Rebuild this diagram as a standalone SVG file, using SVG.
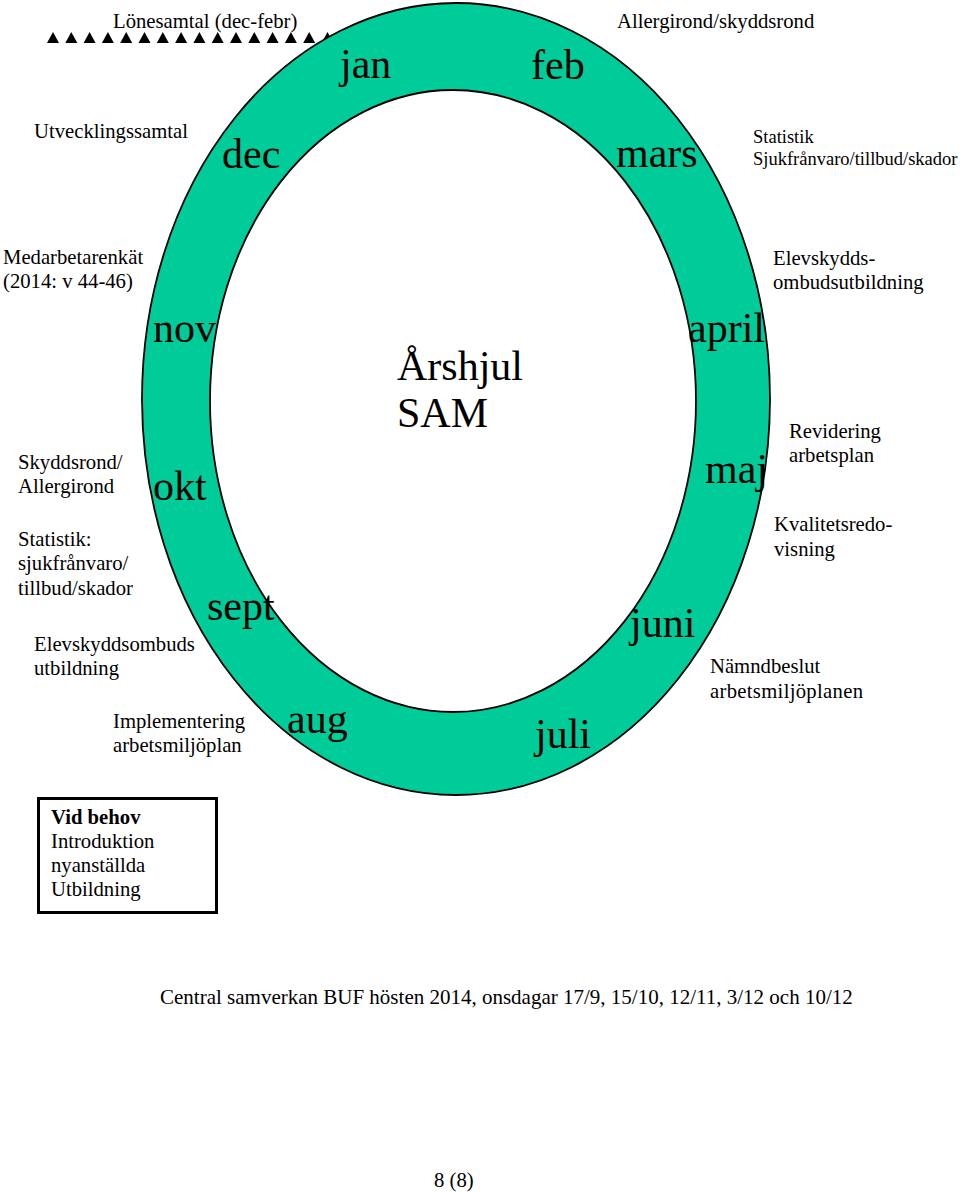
<svg xmlns="http://www.w3.org/2000/svg" xmlns:xlink="http://www.w3.org/1999/xlink" width="960" height="1192" viewBox="0 0 960 1192">
<style>
text{font-family:"Liberation Serif","Times New Roman",serif;fill:#000}
.m{font-size:42px}
.t{font-size:20.7px}
.s{font-size:18.5px}
.b{font-weight:bold}
</style>
<defs>
<polygon id="tri" points="0,-11 6,0 -6,0" fill="#000"/>
</defs>
<rect width="960" height="1192" fill="#fff"/>
<g id="triangles">
<use xlink:href="#tri" x="53" y="43"/><use xlink:href="#tri" x="71.3" y="43"/><use xlink:href="#tri" x="89.6" y="43"/><use xlink:href="#tri" x="107.9" y="43"/><use xlink:href="#tri" x="126.2" y="43"/><use xlink:href="#tri" x="144.5" y="43"/><use xlink:href="#tri" x="162.8" y="43"/><use xlink:href="#tri" x="181.1" y="43"/><use xlink:href="#tri" x="199.4" y="43"/><use xlink:href="#tri" x="217.7" y="43"/><use xlink:href="#tri" x="236" y="43"/><use xlink:href="#tri" x="254.3" y="43"/><use xlink:href="#tri" x="272.6" y="43"/><use xlink:href="#tri" x="290.9" y="43"/><use xlink:href="#tri" x="309.2" y="43"/><use xlink:href="#tri" x="327.5" y="43"/><use xlink:href="#tri" x="345.8" y="43"/>
</g>
<g id="ring">
<path d="M142 399A314 396 0 1 1 770 399A314 396 0 1 1 142 399ZM210 401A243 311 0 1 0 696 401A243 311 0 1 0 210 401Z" fill="#00CC99" fill-rule="evenodd" stroke="#000" stroke-width="1.8"/>
</g>
<g id="months">
<text class="m" x="340" y="78">jan</text>
<text class="m" x="531" y="79">feb</text>
<text class="m" x="222" y="168">dec</text>
<text class="m" x="616" y="167">mars</text>
<text class="m" x="153" y="342">nov</text>
<text class="m" x="688" y="342">april</text>
<text class="m" x="153" y="500">okt</text>
<text class="m" x="705" y="483">maj</text>
<text class="m" x="207" y="620">sept</text>
<text class="m" x="630" y="637">juni</text>
<text class="m" x="287" y="733">aug</text>
<text class="m" x="535" y="748">juli</text>
</g>
<g id="title">
<text class="m" x="397" y="380">Årshjul</text>
<text class="m" x="397" y="427">SAM</text>
</g>
<g id="lonesamtal"><text class="t" x="113" y="28">Lönesamtal (dec-febr)</text></g>
<g id="allergirond"><text class="t" x="617" y="28">Allergirond/skyddsrond</text></g>
<g id="utvecklingssamtal"><text class="t" x="34" y="138">Utvecklingssamtal</text></g>
<g id="statistik-mars"><text class="s" x="753" y="143">Statistik</text><text class="s" x="753" y="165">Sjukfrånvaro/tillbud/skador</text></g>
<g id="medarbetarenkat"><text class="t" x="3" y="264">Medarbetarenkät</text><text class="t" x="3" y="288">(2014: v 44-46)</text></g>
<g id="elevskydds-april"><text class="t" x="773" y="265">Elevskydds-</text><text class="t" x="773" y="289">ombudsutbildning</text></g>
<g id="skyddsrond"><text class="t" x="18" y="469">Skyddsrond/</text><text class="t" x="18" y="493">Allergirond</text></g>
<g id="revidering"><text class="t" x="789" y="438">Revidering</text><text class="t" x="789" y="462">arbetsplan</text></g>
<g id="kvalitet"><text class="t" x="774" y="531">Kvalitetsredo-</text><text class="t" x="774" y="556">visning</text></g>
<g id="statistik-okt"><text class="t" x="18" y="546">Statistik:</text><text class="t" x="18" y="570">sjukfrånvaro/</text><text class="t" x="18" y="595">tillbud/skador</text></g>
<g id="elevskydds-sept"><text class="t" x="34" y="651">Elevskyddsombuds</text><text class="t" x="34" y="675">utbildning</text></g>
<g id="namndbeslut"><text class="t" x="710" y="673">Nämndbeslut</text><text class="t" x="710" y="698" letter-spacing="0.3">arbetsmiljöplanen</text></g>
<g id="implementering"><text class="t" x="113" y="728">Implementering</text><text class="t" x="113" y="752">arbetsmiljöplan</text></g>
<g id="vidbehov">
<rect x="38.5" y="798.5" width="178" height="114" fill="none" stroke="#000" stroke-width="3"/>
<text class="t b" x="51" y="824">Vid behov</text>
<text class="t" x="51" y="848">Introduktion</text>
<text class="t" x="51" y="872">nyanställda</text>
<text class="t" x="51" y="896">Utbildning</text>
</g>
<g id="central"><text x="160" y="1004" font-size="21">Central samverkan BUF hösten 2014, onsdagar 17/9, 15/10, 12/11, 3/12 och 10/12</text></g>
<g id="page"><text class="t" x="434" y="1187">8 (8)</text></g>
</svg>
